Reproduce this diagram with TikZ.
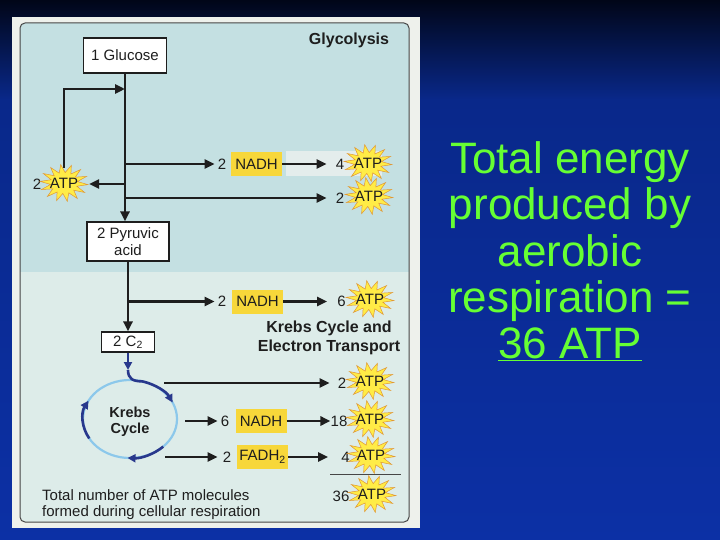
\documentclass[tikz,border=0pt]{standalone}
\usepackage{fontspec}
\setmainfont{Liberation Sans}
\usetikzlibrary{arrows.meta}
\definecolor{bgtop}{RGB}{1,6,24}
\definecolor{bgmid}{RGB}{9,40,138}
\definecolor{bgbot}{RGB}{12,48,165}
\definecolor{paper}{RGB}{238,241,236}
\definecolor{panelA}{RGB}{196,224,226}
\definecolor{panelB}{RGB}{221,236,233}
\definecolor{hilite}{RGB}{228,237,236}
\definecolor{ink}{RGB}{30,30,30}
\definecolor{edge}{RGB}{70,70,70}
\definecolor{yel}{RGB}{247,215,58}
\definecolor{stin}{RGB}{255,236,70}
\definecolor{stout}{RGB}{240,165,45}
\definecolor{stedge}{RGB}{225,150,50}
\definecolor{lightcyc}{RGB}{140,200,235}
\definecolor{darkcyc}{RGB}{40,56,140}
\definecolor{grn}{RGB}{102,255,51}
\pgfdeclareradialshading{burstshade}{\pgfpoint{0bp}{0bp}}{color(0bp)=(stin); color(26bp)=(stin); color(50bp)=(stout)}
\newcommand{\diag}{\fontsize{15}{17}\selectfont}
\newcommand{\diagb}{\bfseries\fontsize{16}{19}\selectfont}
\newcommand{\atpat}[2]{\pic at (#2) {burst}; \node[atpt] (#1) at (#2) {ATP};}
\begin{document}
\begin{tikzpicture}[x=1pt,y=-1pt,
  lbl/.style={font=\diag, text=ink, inner sep=0pt},
  box/.style={draw=ink, line width=1.1pt, fill=white, font=\diag, text=ink, inner sep=0pt},
  ybox/.style={fill=yel, font=\diag, text=ink, inner sep=0pt, minimum width=51pt, minimum height=24pt},
  arr/.style={draw=ink, line width=2.8pt, -{Triangle[length=10pt,width=9pt]}},
  cycl/.style={draw=lightcyc, line width=2.2pt},
  cycd/.style={draw=darkcyc, line width=2.6pt, -{Triangle[length=8pt,width=8pt]}},
  grnt/.style={font=\fontsize{44}{46}\selectfont, text=grn, anchor=base, inner sep=0pt},
  atpt/.style={font=\diag, text=ink, inner sep=0pt, minimum width=50pt, minimum height=40pt},
  burst/.pic={\shadedraw[draw=stedge, line width=0.5pt, shading=burstshade]
      plot[samples at={0,...,27}, variable=\k]
      ({cos(\k*360/28+5)*ifthenelse(mod(\k,2)==0,24,13.5)}, {sin(\k*360/28+5)*ifthenelse(mod(\k,2)==0,18.5,10.5)}) -- cycle;}
  ]
\useasboundingbox (0,0) rectangle (720,540);
% background
\fill[bgmid] (0,0) rectangle (720,540);
\shade[top color=bgtop, bottom color=bgmid] (0,0) rectangle (720,100);
\shade[top color=bgmid, bottom color=bgbot] (0,100) rectangle (720,540);
% paper and panel
\fill[paper] (12,17) rectangle (420,528);
\begin{scope}
  \clip[rounded corners=5pt] (20,23) rectangle (409,522);
  \fill[panelB] (20,23) rectangle (409,522);
  \fill[panelA] (20,23) rectangle (409,272);
\end{scope}
\draw[edge, line width=1pt, rounded corners=5pt] (20,23) rectangle (409,522);
\fill[hilite] (286,151) rectangle (382,176);

% glycolysis
\node[lbl, font=\diagb] (glyc) at (349,40) {Glycolysis};
\node[box, minimum width=83pt, minimum height=35pt] (glu) at (125,55.5) {1 Glucose};
\node[box, minimum width=82pt, minimum height=39pt, align=center] (pyr) at (128,241.5) {2 Pyruvic\\acid};
\node[box, minimum width=53pt, minimum height=20pt] (c2) at (128,342) {2 C\textsubscript{2}};

\coordinate (j1) at (125,89);
\coordinate (j2) at (125,164);
\coordinate (j3) at (125,184);
\coordinate (j4) at (125,198);
\draw[arr] (glu.south) -- (glu.south |- pyr.north);

% left ATP feedback
\node[lbl] (l2) at (37,184) {2};
\atpat{ls}{64,183}
\coordinate (lstop) at (64,168);
\draw[arr] (j3) -- (ls.east |- j3);
\draw[arr] (lstop) |- (j1);

% row A
\node[lbl] (n1) at (222,164) {2};
\node[ybox] (nadh1) at (256.5,164) {NADH};
\node[lbl] (f4) at (340,164) {4};
\atpat{s4}{368,163}
\draw[arr, shorten >=3pt] (j2) -- (n1);
\draw[arr, shorten >=9pt] (nadh1) -- (f4);

% row B
\node[lbl] (t2) at (340,198) {2};
\atpat{s2}{369,196}
\draw[arr, shorten >=9pt] (j4) -- (t2);

% lower trunk
\draw[arr] (pyr.south) -- (c2.north);
\coordinate (j5) at (128,301.5);
\node[lbl] (k2) at (222,301.5) {2};
\node[ybox] (nadh2) at (257.5,301.5) {NADH};
\node[lbl] (k6) at (341.5,301.5) {6};
\atpat{s6}{370,299}
\draw[arr, shorten >=3pt] (j5) -- (k2);
\draw[arr, shorten >=10pt] (nadh2) -- (k6);

\node[lbl, font=\diagb, align=center] (kcet) at (329,338) {Krebs Cycle and\\Electron Transport};

% Krebs cycle
\coordinate (kc) at (130,419);
\coordinate (kin) at (128,370);
\draw[cycl] (kc) ellipse [x radius=47, y radius=39];
\draw[cycd] (c2.south) -- (kin);
\draw[cycd] (kin) .. controls +(0,9) and +(-9,0) .. ([shift={(-75:47 and 39)}]kc)
  arc[start angle=-75, end angle=-25, x radius=47, y radius=39];
\draw[cycd] ([shift={(45:47 and 39)}]kc) arc[start angle=45, end angle=93, x radius=47, y radius=39];
\draw[cycd] ([shift={(150:47 and 39)}]kc) arc[start angle=150, end angle=208, x radius=47, y radius=39];
\node[lbl, font=\bfseries\fontsize{14.5}{16}\selectfont, align=center] (kcy) at (130,422) {Krebs\\Cycle};

% row D
\coordinate (o1) at (164,383);
\node[lbl] (d2) at (342,383) {2};
\atpat{sd}{370,381}
\draw[arr, shorten >=8pt] (o1) -- (d2);

% row E
\coordinate (o2) at (185,421);
\node[lbl] (e6) at (225,421) {6};
\node[ybox] (nadh3) at (261,421) {NADH};
\node[lbl] (e18) at (339,421) {18};
\atpat{se}{370,419}
\draw[arr, shorten >=3pt] (o2) -- (e6);
\draw[arr] (nadh3) -- (e18);

% row F
\coordinate (o3) at (165,457);
\node[lbl] (g2) at (227,457) {2};
\node[ybox] (fad) at (262.5,457) {FADH\textsubscript{2}};
\node[lbl] (g4) at (345.5,457) {4};
\atpat{sg}{371,455}
\draw[arr, shorten >=5pt] (o3) -- (g2);
\draw[arr, shorten >=13pt] (fad) -- (g4);

% total
\coordinate (r1) at (330,474);
\coordinate (r2) at (401,474);
\draw[edge, line width=1pt] (r1) -- (r2);
\node[lbl] (h36) at (341,496) {36};
\atpat{s36}{372,494}
\node[lbl, font=\fontsize{15}{16}\selectfont, anchor=west, align=left] (tot) at (42,504.5) {Total number of ATP molecules\\formed during cellular respiration};

% green text
\node[grnt] (gt1) at (570,174) {Total energy};
\node[grnt] (gt2) at (570,220) {produced by};
\node[grnt] (gt3) at (570,266) {aerobic};
\node[grnt] (gt4) at (570,312) {respiration =};
\node[grnt] (gt5) at (570,358) {\underline{36 ATP}};
\end{tikzpicture}
\end{document}
